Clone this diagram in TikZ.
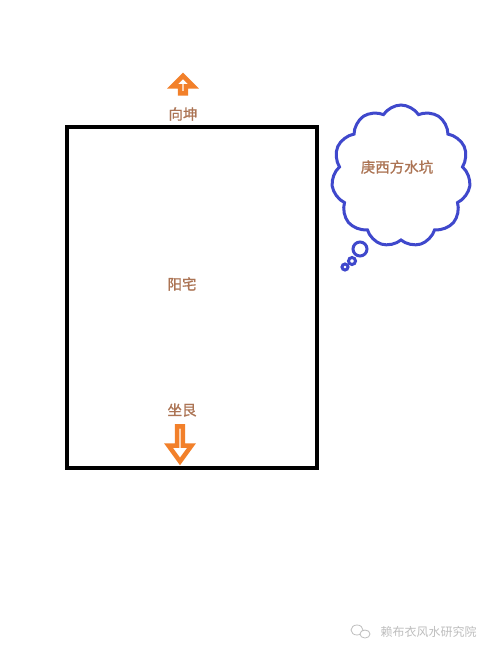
\documentclass[tikz,border=0pt]{standalone}
\usepackage{fontspec}
\newfontfamily\cjk[FakeBold=1]{Noto Sans CJK SC}
\newfontfamily\cjklight{Noto Sans CJK SC}
\usetikzlibrary{shapes.symbols,shapes.arrows}
\definecolor{houseorange}{RGB}{242,128,42}
\definecolor{labelbrown}{RGB}{172,116,84}
\definecolor{cloudblue}{RGB}{63,72,204}
\definecolor{markgrey}{RGB}{190,190,190}
\begin{document}
\begin{tikzpicture}[x=1pt, y=-1pt, every node/.style={font=\cjk\fontsize{14.5}{16}\selectfont, text=labelbrown},
  blockarrow/.style={single arrow, draw=houseorange, fill=white, line width=4.5pt, single arrow head indent=0pt, inner sep=0pt},
  thought/.style={circle, draw=cloudblue, line width=3pt, inner sep=0pt}]

\useasboundingbox[fill=white] (0,0) rectangle (490,654);

% house
\draw[line width=4pt] (67,127) rectangle (317,468);
\node (house) at (182,284) {阳宅};

% facing and sitting
\node[blockarrow, rotate=90, minimum height=17.5pt, minimum width=21pt, single arrow head extend=6pt] (up) at (183,86) {\hspace{9pt}};
\node (facing) at (183,114) {向坤};
\node (sitting) at (182,410) {坐艮};
\node[blockarrow, rotate=-90, minimum height=35pt, minimum width=23pt, single arrow head extend=7pt, single arrow tip angle=72] (down) at (180,442) {\hspace{9pt}};

% water pit
\node[cloud, draw=cloudblue, line width=3pt, cloud puffs=11, cloud puff arc=115, aspect=1, minimum width=139pt, minimum height=142pt] (pit) at (401,176) {};
\node (pitlabel) at (397,167) {庚西方水坑};
\node[thought, minimum size=14pt] (b1) at (360,249) {};
\node[thought, minimum size=7pt] (b2) at (352,261) {};
\node[thought, minimum size=6pt] (b3) at (345,267) {};

% watermark
\draw[markgrey, line width=0.8pt] (357,630) ellipse (6pt and 5pt);
\draw[markgrey, line width=0.8pt, fill=white] (365,634) ellipse (5pt and 4pt);
\node[font=\cjklight\fontsize{12}{14}\selectfont, text=markgrey, anchor=west] (mark) at (377,632) {赖布衣风水研究院};

\end{tikzpicture}
\end{document}
